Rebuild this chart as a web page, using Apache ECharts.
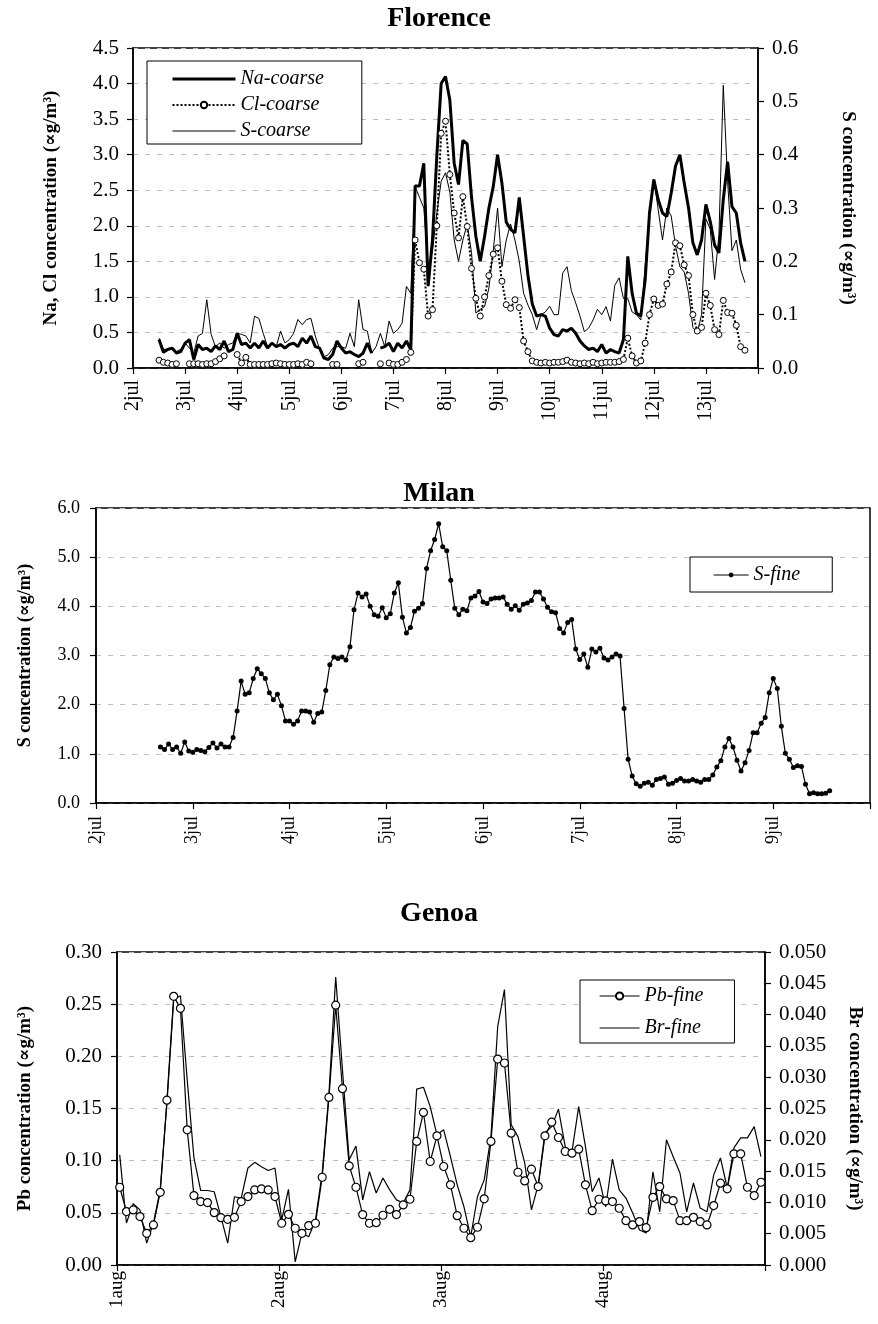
<!DOCTYPE html>
<html><head><meta charset="utf-8">
<script src="https://cdn.jsdelivr.net/npm/echarts@6/dist/echarts.min.js"></script>
<style>html,body{margin:0;padding:0;background:#fff}#c{width:878px;height:1324px}</style>
</head><body><div id="c"></div>
<script>
// ---------------- Florence (2-hourly, starting 2 jul 12:00) ----------------
const flDayLabels = ['2jul','3jul','4jul','5jul','6jul','7jul','8jul','9jul','10jul','11jul','12jul','13jul'];
const flStartHour = 12, flStepHours = 2;
const flNa = [0.40,0.22,0.26,0.28,0.21,0.23,0.35,0.40,0.12,0.33,
  0.26,0.28,0.23,0.31,0.26,0.38,0.23,0.26,0.49,0.33,
  0.35,0.28,0.35,0.28,0.38,0.28,0.35,0.30,0.33,0.28,
  0.33,0.35,0.30,0.42,0.35,0.45,0.30,0.28,0.14,0.12,
  0.19,0.38,0.28,0.21,0.23,0.19,0.16,0.21,0.35,0.21,
  null,0.28,0.30,0.35,0.23,0.35,0.28,0.38,0.26,2.56,
  2.56,2.88,1.15,1.80,2.98,4.00,4.10,3.77,2.88,2.58,
  3.20,3.15,2.40,1.85,1.50,1.85,2.25,2.55,3.00,2.60,
  2.05,1.95,1.90,2.40,1.85,1.30,0.90,0.73,0.75,0.73,
  0.56,0.47,0.45,0.54,0.52,0.56,0.49,0.38,0.31,0.26,
  0.28,0.23,0.33,0.21,0.26,0.23,0.21,0.40,1.57,1.05,
  0.77,0.73,1.24,2.18,2.65,2.37,2.18,2.13,2.46,2.84,
  3.00,2.60,2.25,1.76,1.59,1.80,2.30,2.06,1.73,1.62,
  2.37,2.90,2.27,2.18,1.76,1.50];
const flCl = [0.11,0.08,0.07,0.05,0.06,null,null,0.06,0.06,0.06,
  0.05,0.06,0.06,0.09,0.13,0.17,null,null,0.19,0.07,
  0.15,0.05,0.05,0.05,0.05,0.05,0.06,0.07,0.06,0.05,
  0.05,0.05,0.06,0.05,0.08,0.06,null,null,null,null,
  0.05,0.05,null,null,null,null,0.06,0.08,null,null,
  null,0.06,null,0.07,0.05,0.05,0.08,0.12,0.22,1.80,
  1.48,1.39,0.73,0.82,2.00,3.30,3.47,2.72,2.18,1.83,
  2.41,1.99,1.40,0.98,0.73,1.00,1.30,1.60,1.69,1.22,
  0.89,0.84,0.96,0.85,0.38,0.23,0.10,0.08,0.07,0.08,
  0.07,0.08,0.08,0.09,0.11,0.08,0.07,0.06,0.07,0.06,
  0.08,0.06,0.07,0.08,0.08,0.08,0.09,0.12,0.42,0.17,
  0.07,0.10,0.35,0.75,0.97,0.88,0.90,1.18,1.35,1.76,
  1.72,1.45,1.30,0.75,0.52,0.57,1.05,0.88,0.54,0.47,
  0.95,0.78,0.77,0.60,0.30,0.25];
const flS = [0.056,0.035,0.035,0.037,0.031,0.035,0.047,0.037,0.028,0.060,
  0.065,0.128,0.063,0.040,0.047,0.037,0.044,0.047,0.065,0.063,
  0.060,0.047,0.097,0.093,0.065,0.040,0.047,0.040,0.069,0.047,
  0.053,0.065,0.091,0.081,0.091,0.093,0.060,0.035,0.021,0.025,
  0.037,0.040,0.040,0.037,0.065,0.040,0.128,0.072,0.069,0.028,
  0.040,0.065,0.040,0.088,0.065,0.072,0.084,0.153,0.140,0.340,
  0.320,0.300,0.190,0.220,0.290,0.350,0.366,0.330,0.240,0.200,
  0.240,0.270,0.216,0.103,0.110,0.115,0.150,0.220,0.300,0.190,
  0.240,0.270,0.240,0.200,0.140,0.118,0.100,0.072,0.100,0.105,
  0.116,0.100,0.100,0.178,0.190,0.145,0.122,0.097,0.068,0.075,
  0.090,0.110,0.100,0.115,0.088,0.155,0.169,0.130,0.130,0.105,
  0.100,0.090,0.190,0.290,0.354,0.297,0.240,0.300,0.285,0.229,
  0.190,0.180,0.140,0.076,0.066,0.100,0.280,0.260,0.166,0.250,
  0.530,0.350,0.220,0.240,0.185,0.160];

// ---------------- Milan (hourly, starting 2 jul 16:00) ----------------
const miDayLabels = ['2jul','3jul','4jul','5jul','6jul','7jul','8jul','9jul'];
const miStartHour = 16, miStepHours = 1;
const miS = [1.14,1.09,1.20,1.09,1.14,1.01,1.24,1.06,1.03,1.09,
  1.07,1.04,1.13,1.22,1.12,1.20,1.14,1.14,1.33,1.87,
  2.48,2.21,2.24,2.53,2.73,2.63,2.53,2.24,2.10,2.21,
  1.98,1.67,1.67,1.60,1.67,1.87,1.87,1.85,1.64,1.82,
  1.85,2.29,2.81,2.97,2.94,2.97,2.91,3.18,3.93,4.27,
  4.19,4.25,4.00,3.83,3.80,3.97,3.77,3.85,4.27,4.48,
  3.78,3.46,3.57,3.90,3.96,4.06,4.77,5.13,5.36,5.68,
  5.21,5.13,4.53,3.96,3.83,3.94,3.91,4.17,4.21,4.30,
  4.09,4.06,4.15,4.17,4.17,4.19,4.04,
  3.94,4.01,3.92,4.04,4.07,4.12,4.29,4.29,4.15,3.98,
  3.89,3.87,3.55,3.46,3.67,3.73,3.13,2.92,3.03,2.76,
  3.13,3.07,3.15,2.95,2.91,2.97,3.03,2.99,1.92,0.89,
  0.55,0.39,0.34,0.40,0.42,0.36,0.48,0.50,0.53,0.38,
  0.40,0.46,0.50,0.45,0.45,0.48,0.45,0.42,0.48,0.48,
  0.57,0.73,0.86,1.14,1.31,1.14,0.87,0.65,0.82,1.07,
  1.43,1.43,1.62,1.74,2.24,2.53,2.33,1.56,1.01,0.89,
  0.72,0.76,0.74,0.38,0.19,0.21,0.19,0.19,0.20,0.25];

// ---------------- Genoa (hourly, starting 1 aug 00:24) ----------------
const geDayLabels = ['1aug','2aug','3aug','4aug'];
const geStartHour = 0.4, geStepHours = 1;
const gePb = [0.0745,0.0512,0.0528,0.0464,0.0304,0.0384,0.0697,0.158,0.2575,0.246,
  0.1296,0.0665,0.0608,0.0598,0.0502,0.0454,0.0438,0.0457,0.0608,0.0656,
  0.072,0.0729,0.072,0.0656,0.040,0.0486,0.0352,0.0304,0.0378,0.040,
  0.0841,0.1606,0.249,0.169,0.095,0.0745,0.0483,0.040,0.0406,0.0477,
  0.0534,0.0483,0.0576,0.063,0.1184,0.1462,0.0992,0.1238,0.0944,0.0768,
  0.0473,0.0352,0.0262,0.0362,0.0634,0.1184,0.1974,0.1936,0.1264,0.0889,
  0.0806,0.0918,0.0752,0.1238,0.1369,0.1222,0.1088,0.1072,0.111,0.0768,
  0.0521,0.063,0.0614,0.0608,0.0544,0.0425,0.0384,0.0416,0.0358,0.0649,
  0.0752,0.0634,0.0617,0.0425,0.0425,0.0457,0.0416,0.0384,0.057,0.0784,
  0.073,0.1066,0.1066,0.0745,0.0665,0.0793];
const geBr = [0.0176,0.0067,0.0098,0.0088,0.0035,0.0067,0.0120,0.0259,0.0424,0.0430,
  0.0296,0.0171,0.0119,0.0119,0.0117,0.0077,0.0035,0.0109,0.0107,0.0155,
  0.0164,0.0157,0.0151,0.0155,0.0072,0.0121,0.0005,0.0051,0.0045,0.0072,
  0.0147,0.0274,0.0460,0.0312,0.0168,0.0190,0.0104,0.0149,0.0115,0.0139,
  0.0120,0.0104,0.0099,0.0120,0.0281,0.0284,0.0253,0.0208,0.0216,0.0173,
  0.0128,0.0093,0.0045,0.0109,0.0136,0.0205,0.0381,0.0440,0.0224,0.0205,
  0.0163,0.0088,0.0128,0.0211,0.0221,0.0249,0.0189,0.0181,0.0253,0.0189,
  0.0117,0.0139,0.0093,0.0169,0.0120,0.0107,0.0083,0.0056,0.0051,0.0149,
  0.0085,0.0200,0.0173,0.0147,0.0085,0.0131,0.0091,0.0085,0.0144,0.0171,
  0.0123,0.0187,0.0203,0.0203,0.0221,0.0173];

// ---------------- helpers ----------------
const FONT = '"Liberation Serif", "DejaVu Serif", serif';
function timed(values, startHour, stepHours) {
  return values.map((v, i) => [(startHour + i * stepHours) / 24, v]);
}
function xAxis(gridIndex, max, labels, margin, fontSize) {
  return {
    type: 'value', gridIndex, min: 0, max, interval: 1,
    axisLine: { show: true, onZero: false, lineStyle: { color: '#000', width: 1.5 } },
    axisTick: { show: true, length: 6, lineStyle: { color: '#000', width: 1.2 } },
    axisLabel: { rotate: 90, margin, fontFamily: FONT, fontSize, color: '#000',
      formatter: v => labels[Math.round(v)] || '' },
    splitLine: { show: false }
  };
}
function yAxis(o) {
  return {
    type: 'value', gridIndex: o.grid, position: o.pos, min: 0, max: o.max, interval: o.interval,
    name: o.name, nameLocation: 'middle', nameGap: o.nameGap, nameRotate: o.nameRotate,
    nameTextStyle: { fontFamily: FONT, fontWeight: 'bold', fontSize: o.nameSize, color: '#000' },
    axisLine: { show: true, lineStyle: { color: '#000', width: 1.5 } },
    axisTick: { show: true, length: 6, lineStyle: { color: '#000', width: 1.2 } },
    axisLabel: { margin: o.margin, fontFamily: FONT, fontSize: o.fontSize, color: '#000',
      formatter: v => v.toFixed(o.digits) },
    splitLine: { show: o.split, lineStyle: { type: [5, 7], color: '#bdbdbd', width: 1 } }
  };
}
const legendText = { fontFamily: FONT, fontStyle: 'italic', fontSize: 20, color: '#000', lineHeight: 20 };
const noMarker = { color: 'rgba(0,0,0,0)', borderColor: 'rgba(0,0,0,0)', borderWidth: 0 };
const titleStyle = { fontFamily: FONT, fontWeight: 'bold', fontSize: 28, color: '#000' };

const option = {
  backgroundColor: '#fff',
  animation: false,
  title: [
    { text: 'Florence', left: 'center', top: 5, padding: 0, textStyle: titleStyle },
    { text: 'Milan', left: 'center', top: 480, padding: 0, textStyle: titleStyle },
    { text: 'Genoa', left: 'center', top: 900, padding: 0, textStyle: titleStyle }
  ],
  grid: [
    { left: 133, top: 48, width: 625, height: 320, show: true, borderColor: '#000', borderWidth: 1.5, backgroundColor: 'transparent' },
    { left: 96, top: 508, width: 774, height: 295, show: true, borderColor: '#000', borderWidth: 1.5, backgroundColor: 'transparent' },
    { left: 117, top: 952, width: 648, height: 313, show: true, borderColor: '#000', borderWidth: 1.5, backgroundColor: 'transparent' }
  ],
  xAxis: [
    xAxis(0, 12, flDayLabels, 12, 20),
    xAxis(1, 8, miDayLabels, 13, 18),
    xAxis(2, 4, geDayLabels, 6, 19)
  ],
  yAxis: [
    yAxis({ grid: 0, pos: 'left', max: 4.5, interval: 0.5, digits: 1, name: 'Na, Cl concentration (∝g/m³)', nameGap: 72, nameRotate: 90, nameSize: 19, margin: 14, fontSize: 21, split: true }),
    yAxis({ grid: 0, pos: 'right', max: 0.6, interval: 0.1, digits: 1, name: 'S concentration (∝g/m³)', nameGap: 80, nameRotate: -90, nameSize: 19, margin: 14, fontSize: 21, split: false }),
    yAxis({ grid: 1, pos: 'left', max: 6, interval: 1, digits: 1, name: 'S concentration (∝g/m³)', nameGap: 62, nameRotate: 90, nameSize: 18, margin: 16, fontSize: 18, split: true }),
    yAxis({ grid: 2, pos: 'left', max: 0.30, interval: 0.05, digits: 2, name: 'Pb concentration (∝g/m³)', nameGap: 82, nameRotate: 90, nameSize: 19, margin: 15, fontSize: 21, split: true }),
    yAxis({ grid: 2, pos: 'right', max: 0.050, interval: 0.005, digits: 3, name: 'Br concentration (∝g/m³)', nameGap: 80, nameRotate: -90, nameSize: 19, margin: 14, fontSize: 21, split: false })
  ],
  legend: [
    { data: [
        { name: 'Na-coarse', itemStyle: noMarker, lineStyle: { width: 3, color: '#000' } },
        { name: 'Cl-coarse', lineStyle: { width: 2, type: 'dotted', color: '#000' } },
        { name: 'S-coarse', itemStyle: noMarker, lineStyle: { width: 1, color: '#000' } }
      ],
      orient: 'vertical', left: 147, top: 61,
      padding: [8, 38, 3, 24], itemGap: 6, itemWidth: 63, itemHeight: 8,
      borderColor: '#000', borderWidth: 1, backgroundColor: '#fff', textStyle: legendText },
    { data: [{ name: 'S-fine', lineStyle: { width: 1.2, color: '#000' } }],
      orient: 'vertical', left: 690, top: 557,
      padding: [8, 32, 7, 23], itemWidth: 35, itemHeight: 6,
      borderColor: '#000', borderWidth: 1, backgroundColor: '#fff', textStyle: legendText },
    { data: [
        { name: 'Pb-fine', lineStyle: { width: 1.2, color: '#000' } },
        { name: 'Br-fine', itemStyle: noMarker, lineStyle: { width: 1.2, color: '#000' } }
      ],
      orient: 'vertical', left: 580, top: 980,
      padding: [6, 31, 5, 19], itemGap: 12, itemWidth: 40, itemHeight: 9,
      borderColor: '#000', borderWidth: 1, backgroundColor: '#fff', textStyle: legendText }
  ],
  series: [
    { name: 'S-coarse', type: 'line', xAxisIndex: 0, yAxisIndex: 1, data: timed(flS, flStartHour, flStepHours),
      symbol: 'none', lineStyle: { color: '#000', width: 1 }, itemStyle: { color: '#000' }, z: 2 },
    { name: 'Na-coarse', type: 'line', xAxisIndex: 0, yAxisIndex: 0, data: timed(flNa, flStartHour, flStepHours),
      symbol: 'none', lineStyle: { color: '#000', width: 3 }, itemStyle: { color: '#000' }, z: 3 },
    { name: 'Cl-coarse', type: 'line', xAxisIndex: 0, yAxisIndex: 0, data: timed(flCl, flStartHour, flStepHours),
      symbol: 'circle', symbolSize: 6, showAllSymbol: true,
      lineStyle: { color: '#000', width: 2, type: 'dotted' },
      itemStyle: { color: '#fff', borderColor: '#000', borderWidth: 1 }, z: 4 },
    { name: 'S-fine', type: 'line', xAxisIndex: 1, yAxisIndex: 2, data: timed(miS, miStartHour, miStepHours),
      symbol: 'circle', symbolSize: 5, showAllSymbol: true,
      lineStyle: { color: '#000', width: 1.2 }, itemStyle: { color: '#000', borderColor: '#000', borderWidth: 0 } },
    { name: 'Br-fine', type: 'line', xAxisIndex: 2, yAxisIndex: 4, data: timed(geBr, geStartHour, geStepHours),
      symbol: 'none', lineStyle: { color: '#000', width: 1.2 }, itemStyle: { color: '#000' }, z: 2 },
    { name: 'Pb-fine', type: 'line', xAxisIndex: 2, yAxisIndex: 3, data: timed(gePb, geStartHour, geStepHours),
      symbol: 'circle', symbolSize: 8, showAllSymbol: true,
      lineStyle: { color: '#000', width: 1.2 },
      itemStyle: { color: '#fff', borderColor: '#000', borderWidth: 1.2 }, z: 3 }
  ]
};
const chart = echarts.init(document.getElementById('c'), null, { renderer: 'canvas' });
chart.setOption(option);
</script></body></html>
